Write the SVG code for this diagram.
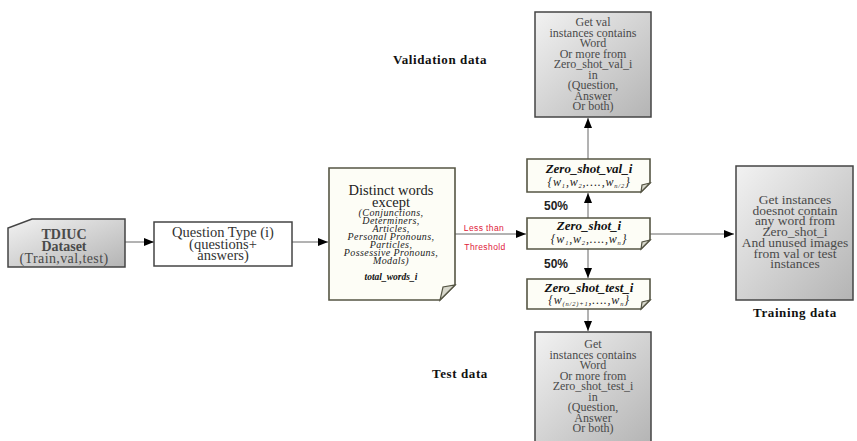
<svg xmlns="http://www.w3.org/2000/svg" width="857" height="441" viewBox="0 0 857 441">
<style>
text{font-family:"Liberation Serif","DejaVu Serif",serif;text-anchor:middle;}
.g{fill:url(#gray);stroke:#444;stroke-width:1.5}
.gt{font-size:12px;fill:#4a4a4a}
.tt{font-size:13.5px;fill:#4a4a4a}
.note{fill:#fdfdf6;stroke:#555544;stroke-width:1.6}
.fold{fill:#d8d8cc;stroke:#555544;stroke-width:1.2}
.ln{stroke:#666;stroke-width:1;fill:none}
.lbl{font-size:13px;font-weight:bold;fill:#111;letter-spacing:0.6px}
.sub{font-size:6.5px}
.set{font-size:12px;font-style:italic;fill:#222;letter-spacing:0.8px}
.red{font-family:"Liberation Sans","DejaVu Sans",sans-serif;font-size:8.5px;fill:#e0203a;letter-spacing:0.4px}
.pct{font-family:"Liberation Sans","DejaVu Sans",sans-serif;font-size:12px;font-weight:bold;fill:#222}
</style>
<defs>
<linearGradient id="gray" x1="0" y1="0" x2="1" y2="1">
<stop offset="0" stop-color="#f2f2f2"/>
<stop offset="1" stop-color="#b4b4b4"/>
</linearGradient>
<marker id="ah" viewBox="0 0 10 8" refX="10" refY="4" markerWidth="10" markerHeight="8" markerUnits="userSpaceOnUse" orient="auto">
<path d="M0,0 L10,4 L0,8 Z" fill="#000"/>
</marker>
</defs>

<g id="connectors">
<line class="ln" x1="125" y1="242" x2="154" y2="242" marker-end="url(#ah)"/>
<line class="ln" x1="292" y1="242" x2="328" y2="242" marker-end="url(#ah)"/>
<line class="ln" x1="455" y1="234" x2="526" y2="234" marker-end="url(#ah)"/>
<line class="ln" x1="650" y1="234" x2="734" y2="234" marker-end="url(#ah)"/>
<line class="ln" x1="588" y1="218" x2="588" y2="193" marker-end="url(#ah)"/>
<line class="ln" x1="588" y1="159" x2="588" y2="118" marker-end="url(#ah)"/>
<line class="ln" x1="588" y1="249" x2="588" y2="278" marker-end="url(#ah)"/>
<line class="ln" x1="588" y1="309" x2="588" y2="331" marker-end="url(#ah)"/>
<text class="red" x="484" y="231">Less than</text>
<text class="red" x="485" y="250">Threshold</text>
<text class="pct" x="556" y="210">50%</text>
<text class="pct" x="556" y="268">50%</text>
</g>

<g id="tdiuc">
<path class="g" d="M32,219 L125,219 L125,267 L8,267 L8,228 Z"/>
<text x="64" y="239" font-size="14" font-weight="bold" fill="#4a4a4a">TDIUC</text>
<text x="64" y="251" font-size="14" font-weight="bold" fill="#4a4a4a">Dataset</text>
<text x="64" y="263" font-size="14" fill="#4a4a4a" letter-spacing="0.4">(Train,val,test)</text>
</g>

<g id="qtype">
<rect x="154" y="222" width="138" height="44" fill="#fff" stroke="#444" stroke-width="1.5"/>
<text x="223" y="237" font-size="14.5" fill="#333">Question Type (i)</text>
<text x="223" y="249" font-size="14.5" fill="#333">(questions+</text>
<text x="223" y="260" font-size="14.5" fill="#333">answers)</text>
</g>

<g id="distinct">
<path class="note" d="M329,168 L455,168 L455,285 L440,300 L329,300 Z"/>
<path class="fold" d="M455,285 L440,300 L443,287 Z"/>
<text x="391" y="195" font-size="14.5" fill="#222">Distinct words</text>
<text x="391" y="207" font-size="14.5" fill="#222">except</text>
<g font-size="10" font-style="italic" fill="#222" letter-spacing="0.4">
<text x="391" y="216">(Conjunctions,</text>
<text x="391" y="224">Determiners,</text>
<text x="391" y="232">Articles,</text>
<text x="391" y="240">Personal Pronouns,</text>
<text x="391" y="248">Particles,</text>
<text x="391" y="256">Possessive Pronouns,</text>
<text x="391" y="264">Modals)</text>
</g>
<text x="391" y="280" font-size="9.5" font-style="italic" font-weight="bold" fill="#111">total_words_i</text>
</g>

<g id="zs_val">
<path class="note" d="M527,159 L650,159 L650,183 L641,192 L527,192 Z"/>
<path class="fold" d="M650,183 L641,192 L642,185 Z"/>
<text x="589" y="173" font-size="13" font-style="italic" font-weight="bold" fill="#111">Zero_shot_val_i</text>
<text class="set" x="589" y="186">{w<tspan class="sub" dy="2">1</tspan><tspan dy="-2">,w</tspan><tspan class="sub" dy="2">2</tspan><tspan dy="-2">,….,w</tspan><tspan class="sub" dy="2">n/2</tspan><tspan dy="-2">}</tspan></text>
</g>

<g id="zs">
<path class="note" d="M527,218 L650,218 L650,240 L641,249 L527,249 Z"/>
<path class="fold" d="M650,240 L641,249 L642,242 Z"/>
<text x="589" y="230" font-size="13" font-style="italic" font-weight="bold" fill="#111">Zero_shot_i</text>
<text class="set" x="589" y="243">{w<tspan class="sub" dy="2">1</tspan><tspan dy="-2">,w</tspan><tspan class="sub" dy="2">2</tspan><tspan dy="-2">,….,w</tspan><tspan class="sub" dy="2">n</tspan><tspan dy="-2">}</tspan></text>
</g>

<g id="zs_test">
<path class="note" d="M527,279 L650,279 L650,300 L641,309 L527,309 Z"/>
<path class="fold" d="M650,300 L641,309 L642,302 Z"/>
<text x="589" y="292" font-size="13" font-style="italic" font-weight="bold" fill="#111">Zero_shot_test_i</text>
<text class="set" x="589" y="304">{w<tspan class="sub" dy="2">(n/2)+1</tspan><tspan dy="-2">,….,w</tspan><tspan class="sub" dy="2">n</tspan><tspan dy="-2">}</tspan></text>
</g>

<g id="val_box">
<rect class="g" x="535" y="12" width="116" height="105"/>
<g class="gt">
<text x="593" y="26">Get val</text>
<text x="593" y="36.5">instances contains</text>
<text x="593" y="47">Word</text>
<text x="593" y="57.5">Or more from</text>
<text x="593" y="68">Zero_shot_val_i</text>
<text x="593" y="78.5">in</text>
<text x="593" y="89">(Question,</text>
<text x="593" y="99.5">Answer</text>
<text x="593" y="110">Or both)</text>
</g>
</g>
<text class="lbl" x="440" y="64">Validation data</text>

<g id="test_box">
<rect class="g" x="535" y="332" width="116" height="112"/>
<g class="gt">
<text x="593" y="348">Get</text>
<text x="593" y="358.5">instances contains</text>
<text x="593" y="369">Word</text>
<text x="593" y="379.5">Or more from</text>
<text x="593" y="390">Zero_shot_test_i</text>
<text x="593" y="400.5">in</text>
<text x="593" y="411">(Question,</text>
<text x="593" y="421.5">Answer</text>
<text x="593" y="432">Or both)</text>
</g>
</g>
<text class="lbl" x="460" y="378">Test data</text>

<g id="train_box">
<rect class="g" x="736" y="166" width="117" height="134"/>
<g class="tt">
<text x="795" y="204">Get instances</text>
<text x="795" y="214.7">doesnot contain</text>
<text x="795" y="225.4">any word from</text>
<text x="795" y="236.1">Zero_shot_i</text>
<text x="795" y="246.8">And unused images</text>
<text x="795" y="257.5">from val or test</text>
<text x="795" y="268.2">instances</text>
</g>
</g>
<text class="lbl" x="795" y="317">Training data</text>
</svg>
